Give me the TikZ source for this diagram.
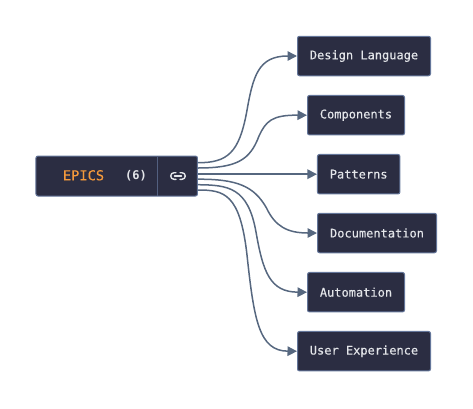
\documentclass[tikz,border=0pt]{standalone}
\usepackage{fontspec}
\setmonofont[FakeBold=0.2]{DejaVu Sans Mono}
\newfontfamily\boldmono{DejaVu Sans Mono}
\usetikzlibrary{arrows.meta}
\definecolor{boxfill}{HTML}{2B2D42}
\definecolor{boxedge}{HTML}{64769A}
\definecolor{wire}{HTML}{56677F}
\definecolor{labeltxt}{HTML}{E4E6EA}
\definecolor{orangetxt}{HTML}{F49A3C}
\tikzset{
  item/.style={draw=boxedge,fill=boxfill,line width=1pt,rounded corners=2pt,inner sep=0pt,
    minimum height=39.5pt,text=labeltxt,font=\ttfamily\fontsize{12}{14}\selectfont},
  wirepath/.style={draw=wire,line width=1.5pt,-{Triangle[length=9.5pt,width=9.5pt]}},
  iconline/.style={draw=labeltxt,line width=1.4pt,line cap=round}
}
\begin{document}
\begin{tikzpicture}[x=1pt,y=-1pt]
\useasboundingbox (0,0) rectangle (473,408);
\node[item,minimum width=133pt] (design) at (364,56) {\raisebox{-0.7pt}{Design Language}};
\node[item,minimum width=97pt] (comp) at (356,115.2) {\raisebox{-0.7pt}{Components}};
\node[item,minimum width=82.5pt] (patt) at (358.7,174.2) {\raisebox{-0.7pt}{Patterns}};
\node[item,minimum width=119pt] (docu) at (377,233) {\raisebox{-0.7pt}{Documentation}};
\node[item,minimum width=97pt] (auto) at (356,292.2) {\raisebox{-0.7pt}{Automation}};
\node[item,minimum width=133pt] (user) at (364,351.2) {\raisebox{-0.7pt}{User Experience}};
\node[item,minimum width=161.5pt,minimum height=40pt] (epics) at (116.7,176) {};
\draw[boxedge!70!boxfill,line width=0.7pt] (157.7,156.5) coordinate (dtop) -- (157.7,195.5) coordinate (dbot);
\node[text=orangetxt,font=\ttfamily\fontsize{13.7}{16}\selectfont,inner sep=0pt] (title) at (83.5,175.3) {EPICS};
\node[text=labeltxt,font=\boldmono\bfseries\fontsize{12}{14}\selectfont,inner sep=0pt] (count) at (136,175.7) {(6)};
% link icon
\draw[iconline] (176,172.7) -- (174,172.7) arc[start angle=-90,end angle=-270,radius=3.3] -- (176,179.3);
\draw[iconline] (180,172.7) -- (182,172.7) arc[start angle=-90,end angle=90,radius=3.3] -- (180,179.3);
\draw[iconline] (174.5,176) -- (181.5,176);
% connector starts
\coordinate (s1) at (197.5,162.7);
\coordinate (s2) at (197.5,168);
\coordinate (s3) at (197.5,174.2);
\coordinate (s4) at (197.5,179.2);
\coordinate (s5) at (197.5,184.7);
\coordinate (s6) at (197.5,190);
\draw[wirepath] (s1) .. controls (228,163) and (239,152) .. (246.5,113) .. controls (253,76) and (258,56) .. (design.west);
\draw[wirepath] (s2) .. controls (237,168) and (250,160) .. (259,136) .. controls (266,121) and (272,115) .. (comp.west);
\draw[wirepath] (s3) -- (patt.west);
\draw[wirepath] (s4) .. controls (237,179) and (254,186) .. (266.5,208) .. controls (275,226) and (287,233) .. (docu.west);
\draw[wirepath] (s5) .. controls (228,185) and (248,187) .. (256,232) .. controls (263,272) and (270,292) .. (auto.west);
\draw[wirepath] (s6) .. controls (224,190) and (240,193) .. (247,255) .. controls (254,320) and (259,351) .. (user.west);
\end{tikzpicture}
\end{document}
